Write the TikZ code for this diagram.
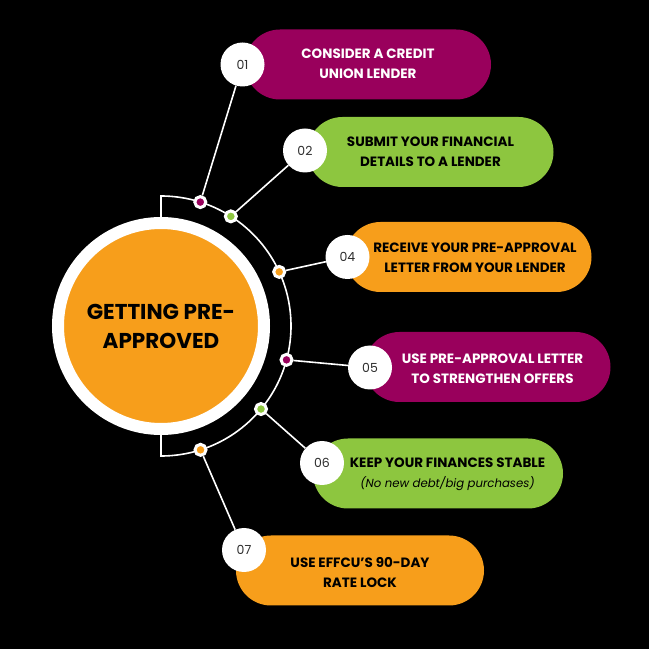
\documentclass[tikz,border=0pt]{standalone}
\usepackage{fontspec}
\setmainfont{Poppins}
\usetikzlibrary{positioning, calc}
\definecolor{effplum}{RGB}{153,0,92}
\definecolor{effgreen}{RGB}{141,198,63}
\definecolor{efforange}{RGB}{247,158,27}
\definecolor{effgray}{RGB}{45,45,45}
\tikzset{
  hub/.style={circle, fill=efforange, draw=white, line width=12pt, minimum size=206pt,
    inner sep=0pt, font=\fontsize{21.5}{29}\selectfont\bfseries, align=center},
  wire/.style={white, line width=1.6pt},
  dot/.style={circle, fill=#1, draw=white, line width=3pt, minimum size=11pt, inner sep=0pt},
  num/.style={circle, fill=white, minimum size=44pt, inner sep=0pt, text=effgray,
    font=\fontsize{12.5}{12.5}\selectfont},
  pill/.style={rectangle, rounded corners=35pt, fill=#1, minimum width=246pt,
    minimum height=70pt, inner sep=0pt},
  lbl/.style={font=\fontsize{13.5}{20}\selectfont\bfseries, align=center}
}

\begin{document}
\begin{tikzpicture}[x=1pt, y=1pt]
  \fill[black] (0,0) rectangle (649,649);
  % hub and the half ring round it
  \node[hub] (hub) at (161,323) {GETTING PRE-\\APPROVED};
  \draw[wire] ($(hub.center)+(0,109)$) -- ++(0,21) arc[start angle=90, end angle=-90, radius=130]
    -- ++(0,21);
  % pills
  \node[pill=effplum]   (p1) at (368,584.5) {};
  \node[pill=effgreen]  (p2) at (430.5,497)  {};
  \node[pill=efforange] (p4) at (468.5,392)  {};
  \node[pill=effplum]   (p5) at (487.5,282)  {};
  \node[pill=effgreen, minimum width=250pt] (p6) at (438,175.5) {};
  \node[pill=efforange, minimum width=248pt] (p7) at (360,78.5) {};
  \node[lbl, text=white] at ([yshift=0.5]p1.center) {CONSIDER A CREDIT\\UNION LENDER};
  \node[lbl] at ([yshift=0.5]p2.center) {SUBMIT YOUR FINANCIAL\\DETAILS TO A LENDER};
  \node[lbl] at ([xshift=6.5,yshift=-0.5]p4.center) {RECEIVE YOUR PRE-APPROVAL\\LETTER FROM YOUR LENDER};
  \node[lbl, text=white] at ([xshift=5,yshift=-1.5]p5.center) {USE PRE-APPROVAL LETTER\\TO STRENGTHEN OFFERS};
  \node[lbl] at ([xshift=9.5,yshift=-0.5]p6.center) {KEEP YOUR FINANCES STABLE\\{\fontsize{11.7}{20}\selectfont\mdseries\itshape (No new debt/big purchases)}};
  \node[lbl] at ([yshift=-2]p7.center) {USE EFFCU'S 90-DAY\\RATE LOCK};
  % step numbers
  \node[num] (n1) at (242.5,584.5) {01};
  \node[num] (n2) at (305,498.5)   {02};
  \node[num] (n4) at (347.5,392)   {04};
  \node[num] (n5) at (370,281.5)   {05};
  \node[num] (n6) at (322,186)     {06};
  \node[num] (n7) at (244,99)      {07};
  % dots on the ring
  \node[dot=effplum]   (d1) at ($(hub.center)+(72.4:130)$)  {};
  \node[dot=effgreen]  (d2) at ($(hub.center)+(57.5:130)$)  {};
  \node[dot=efforange] (d4) at ($(hub.center)+(24.6:130)$)  {};
  \node[dot=effplum]   (d5) at ($(hub.center)+(-15.1:130)$) {};
  \node[dot=effgreen]  (d6) at ($(hub.center)+(-39.7:130)$) {};
  \node[dot=efforange] (d7) at ($(hub.center)+(-72.3:130)$) {};
  \foreach \i in {1,2,4,5,6,7}
    \draw[wire] (d\i) -- (n\i);
\end{tikzpicture}
\end{document}
